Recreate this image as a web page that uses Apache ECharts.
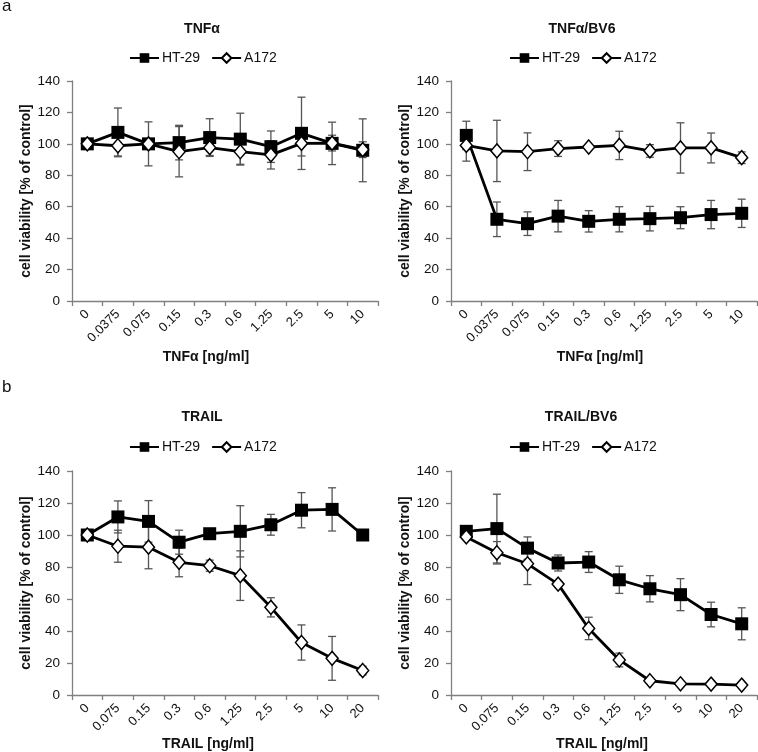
<!DOCTYPE html>
<html><head><meta charset="utf-8">
<script src="https://cdn.jsdelivr.net/npm/echarts@6/dist/echarts.min.js"></script>
<style>html,body{margin:0;padding:0;background:#fff}#c{width:758px;height:752px}</style>
</head><body><div id="c"></div>
<script>
const categoriesTNF = ['0','0.0375','0.075','0.15','0.3','0.6','1.25','2.5','5','10'];
const categoriesTRAIL = ['0','0.075','0.15','0.3','0.6','1.25','2.5','5','10','20'];
const yTicks = [0,20,40,60,80,100,120,140];

const tnf_ht29 = [100,107.3,100,100.8,104,103,98.2,106.7,100.3,95.9];
const tnf_ht29_err = [0,15.5,14,11,12,16.5,10,23,13.5,20];
const tnf_a172 = [100,98.8,100,95,97.6,95,93,100.3,100.5,96.3];
const tnf_a172_err = [0,6.5,3,16,5,8,9,8,5,5];

const tnfbv6_ht29 = [105.4,52,49.2,54,50.7,52,52.4,53,55,55.8];
const tnfbv6_ht29_err = [9,11,7.5,10,6.8,8,7.8,7,9,9];
const tnfbv6_a172 = [99,95.5,95,97,98,99,95.5,97.4,97.4,91.2];
const tnfbv6_a172_err = [10,19.5,12,5,0,9,4,16,9.5,3.7];

const trail_ht29 = [100,111.3,108.5,95.5,100.8,102.3,106.4,115.5,116,100];
const trail_ht29_err = [0,10,13,7.5,3,16,6.5,11,13.5,0];
const trail_a172 = [100,93,92.4,82.9,80.8,74.6,54.8,32.8,22.9,15.3];
const trail_a172_err = [0,10,13.5,9,3.5,15.5,6,11,13.7,2.7];

const trailbv6_ht29 = [102.3,104,91.8,82.5,83.1,72,66.4,62.7,50.3,44.5];
const trailbv6_ht29_err = [2,21.5,7,5,6.5,8.5,8.2,10,7.7,10];
const trailbv6_a172 = [98.8,88.9,82,69.3,41.6,21.9,8.9,7,6.8,6.2];
const trailbv6_a172_err = [0,7,13,2,7,4.3,0,0,0,0];

const FONT = 'Liberation Sans, Arial, sans-serif';
const AXIS_COLOR = '#808080';

const panels = [
  {title:'TNFα', xname:'TNFα [ng/ml]', cats:categoriesTNF, ht:tnf_ht29, hte:tnf_ht29_err, a:tnf_a172, ae:tnf_a172_err,
   grid:{left:72,top:81,width:306,height:220}, titleX:197, titleY:17, legX:124, legY:46, nameGap:49, namePad:38},
  {title:'TNFα/BV6', xname:'TNFα [ng/ml]', cats:categoriesTNF, ht:tnfbv6_ht29, hte:tnfbv6_ht29_err, a:tnfbv6_a172, ae:tnfbv6_a172_err,
   grid:{left:451,top:81,width:306,height:220}, titleX:577, titleY:17, legX:504, legY:46, nameGap:49, namePad:8},
  {title:'TRAIL', xname:'TRAIL [ng/ml]', cats:categoriesTRAIL, ht:trail_ht29, hte:trail_ht29_err, a:trail_a172, ae:trail_a172_err,
   grid:{left:72,top:471,width:306,height:225}, titleX:197, titleY:405, legX:124, legY:435, nameGap:42, namePad:34},
  {title:'TRAIL/BV6', xname:'TRAIL [ng/ml]', cats:categoriesTRAIL, ht:trailbv6_ht29, hte:trailbv6_ht29_err, a:trailbv6_a172, ae:trailbv6_a172_err,
   grid:{left:451,top:471,width:306,height:225}, titleX:576, titleY:405, legX:504, legY:435, nameGap:42, namePad:4}
];

function errRender(params, api){
  const x = api.value(0), v = api.value(1), e = api.value(2);
  if (!e) return null;
  const top = api.coord([x, v + e]);
  const bot = api.coord([x, v - e]);
  const w = 4;
  const st = {stroke:'#555', lineWidth:1.3};
  return {type:'group', children:[
    {type:'line', shape:{x1:top[0],y1:top[1],x2:bot[0],y2:bot[1]}, style:st},
    {type:'line', shape:{x1:top[0]-w,y1:top[1],x2:top[0]+w,y2:top[1]}, style:st},
    {type:'line', shape:{x1:bot[0]-w,y1:bot[1],x2:bot[0]+w,y2:bot[1]}, style:st}
  ]};
}

const option = {
  animation:false,
  backgroundColor:'#fff',
  textStyle:{fontFamily:FONT},
  title:[], legend:[], grid:[], xAxis:[], yAxis:[], series:[],
  graphic:[
    {type:'text', left:2, top:-2, style:{text:'a', font:'17px '+FONT, fill:'#111'}},
    {type:'text', left:2, top:379, style:{text:'b', font:'17px '+FONT, fill:'#111'}}
  ]
};

panels.forEach((p, i) => {
  option.title.push({text:p.title, left:p.titleX, top:p.titleY, textAlign:'center',
    textStyle:{fontFamily:FONT, fontSize:14, fontWeight:'bold', color:'#111'}});
  option.legend.push({data:['HT-29','A172'], left:p.legX, top:p.legY, itemWidth:29, itemHeight:12, itemGap:11,
    textStyle:{fontFamily:FONT, fontSize:14, color:'#111', padding:[0,0,0,-2]}});
  option.grid.push(p.grid);
  option.xAxis.push({type:'category', gridIndex:i, data:p.cats, boundaryGap:true,
    name:p.xname, nameLocation:'middle', nameGap:p.nameGap,
    nameTextStyle:{fontFamily:FONT, fontSize:14, fontWeight:'bold', color:'#111', padding:[0,p.namePad,0,0]},
    axisLine:{lineStyle:{color:AXIS_COLOR, width:1.3}},
    axisTick:{show:true, alignWithLabel:false, length:5, lineStyle:{color:AXIS_COLOR, width:1.3}},
    axisLabel:{interval:0, rotate:45, margin:11, fontFamily:FONT, fontSize:13, color:'#111'},
    splitLine:{show:false}});
  option.yAxis.push({type:'value', gridIndex:i, min:0, max:140, interval:20,
    name:'cell viability [% of control]', nameLocation:'middle', nameGap:38,
    nameTextStyle:{fontFamily:FONT, fontSize:14, fontWeight:'bold', color:'#111'},
    axisLine:{show:true, lineStyle:{color:AXIS_COLOR, width:1.3}},
    axisTick:{show:true, length:5, lineStyle:{color:AXIS_COLOR, width:1.3}},
    axisLabel:{margin:12, fontFamily:FONT, fontSize:13.5, color:'#111',
      formatter: v => yTicks.includes(v) ? String(v) : ''},
    splitLine:{show:false}});
  option.series.push({type:'custom', xAxisIndex:i, yAxisIndex:i, renderItem:errRender, z:1,
    data:p.ht.map((v,k)=>[k, v, p.hte[k]]), encode:{x:0,y:1}, silent:true});
  option.series.push({type:'custom', xAxisIndex:i, yAxisIndex:i, renderItem:errRender, z:1,
    data:p.a.map((v,k)=>[k, v, p.ae[k]]), encode:{x:0,y:1}, silent:true});
  option.series.push({name:'HT-29', type:'line', xAxisIndex:i, yAxisIndex:i, data:p.ht, z:3,
    symbol:'rect', symbolSize:13, showAllSymbol:true,
    lineStyle:{color:'#000', width:2.8}, itemStyle:{color:'#000', borderColor:'#000', borderWidth:0}});
  option.series.push({name:'A172', type:'line', xAxisIndex:i, yAxisIndex:i, data:p.a, z:4,
    symbol:'diamond', symbolSize:[12,14], showAllSymbol:true,
    lineStyle:{color:'#000', width:2.8}, itemStyle:{color:'#fff', borderColor:'#000', borderWidth:1.5}});
});

const chart = echarts.init(document.getElementById('c'), null, {renderer:'canvas'});
chart.setOption(option);
</script>
</body></html>
